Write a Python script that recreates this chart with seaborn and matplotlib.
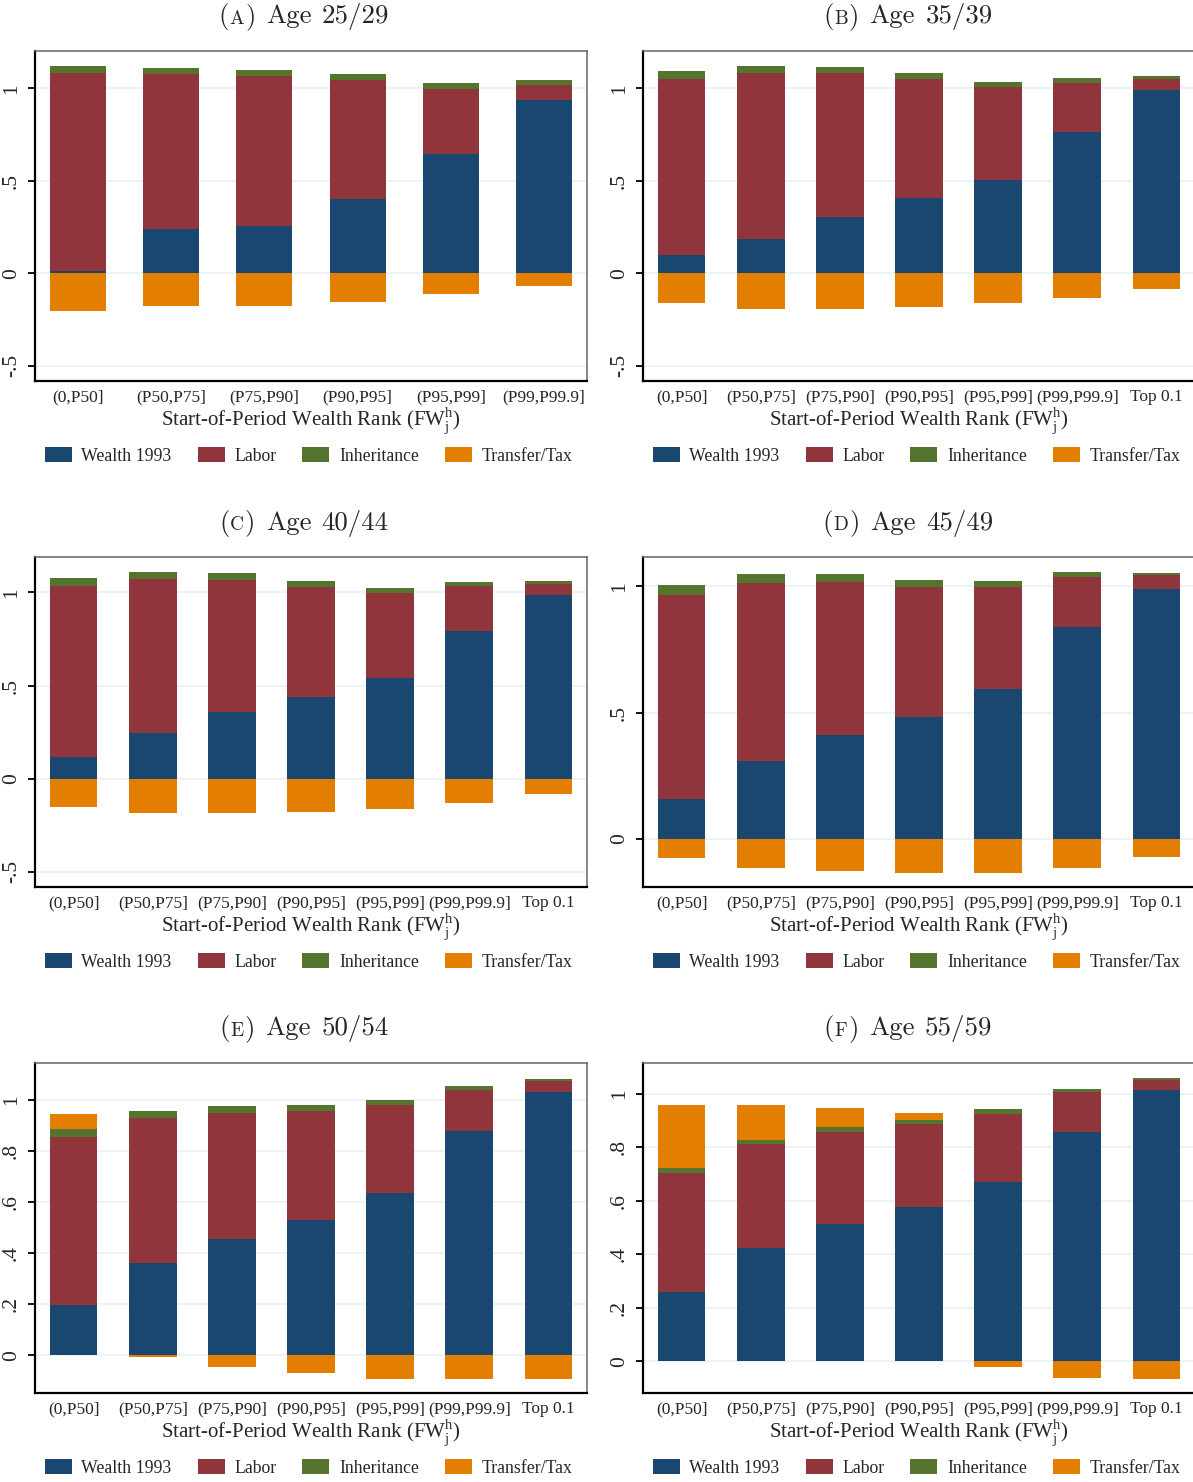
from matplotlib import pyplot as plt
from matplotlib.patches import Patch
from matplotlib.offsetbox import TextArea, HPacker, AnnotationBbox
import numpy as np
import seaborn as sns

sns.set_theme(style='white')
plt.rcParams['font.family'] = ['Liberation Serif', 'DejaVu Serif']
plt.rcParams['mathtext.fontset'] = 'custom'
plt.rcParams['mathtext.rm'] = 'Liberation Serif'

W, H, DPI = 1193, 1482, 100

# ---- data (shares of end-of-period wealth) ----
ranks = ['(0,P50]', '(P50,P75]', '(P75,P90]', '(P90,P95]',
         '(P95,P99]', '(P99,P99.9]', 'Top 0.1']
series = ['Wealth 1993', 'Labor', 'Inheritance', 'Transfer/Tax']
colors = ['#1a476f', '#90353b', '#55752f', '#e37e00']

wealth_a = [0.013, 0.240, 0.256, 0.402, 0.643, 0.939]
labor_a = [1.072, 0.839, 0.812, 0.643, 0.353, 0.079]
inherit_a = [0.037, 0.033, 0.033, 0.032, 0.033, 0.027]
transfer_a = [-0.202, -0.175, -0.177, -0.155, -0.110, -0.068]

wealth_b = [0.099, 0.186, 0.305, 0.407, 0.505, 0.764, 0.993]
labor_b = [0.951, 0.897, 0.778, 0.643, 0.500, 0.265, 0.057]
inherit_b = [0.042, 0.038, 0.032, 0.035, 0.029, 0.029, 0.017]
transfer_b = [-0.162, -0.195, -0.193, -0.182, -0.160, -0.133, -0.085]

wealth_c = [0.116, 0.245, 0.360, 0.438, 0.542, 0.792, 0.986]
labor_c = [0.920, 0.827, 0.706, 0.592, 0.454, 0.244, 0.059]
inherit_c = [0.041, 0.037, 0.038, 0.031, 0.027, 0.019, 0.016]
transfer_c = [-0.152, -0.182, -0.182, -0.177, -0.161, -0.131, -0.080]

wealth_d = [0.158, 0.309, 0.412, 0.483, 0.594, 0.839, 0.989]
labor_d = [0.808, 0.704, 0.606, 0.514, 0.403, 0.198, 0.056]
inherit_d = [0.039, 0.036, 0.031, 0.028, 0.024, 0.020, 0.008]
transfer_d = [-0.074, -0.115, -0.125, -0.133, -0.133, -0.115, -0.070]

wealth_e = [0.197, 0.361, 0.455, 0.531, 0.635, 0.877, 1.030]
labor_e = [0.657, 0.567, 0.493, 0.425, 0.344, 0.161, 0.043]
inherit_e = [0.031, 0.028, 0.025, 0.023, 0.020, 0.015, 0.009]
transfer_e = [0.059, -0.007, -0.044, -0.068, -0.091, -0.091, -0.091]

wealth_f = [0.259, 0.425, 0.515, 0.577, 0.671, 0.858, 1.015]
labor_f = [0.445, 0.387, 0.343, 0.312, 0.254, 0.151, 0.039]
inherit_f = [0.019, 0.016, 0.017, 0.014, 0.018, 0.010, 0.006]
transfer_f = [0.236, 0.131, 0.073, 0.026, -0.021, -0.064, -0.067]

ticks_wide = [-0.5, 0, 0.5, 1]
ticklabels_wide = ['-.5', '0', '.5', '1']
ticks_d = [0, 0.5, 1]
ticklabels_d = ['0', '.5', '1']
ticks_fine = [0, 0.2, 0.4, 0.6, 0.8, 1]
ticklabels_fine = ['0', '.2', '.4', '.6', '.8', '1']

fig = plt.figure(figsize=(W / DPI, H / DPI), dpi=DPI)


# Draws one stacked-bar panel; rect given in pixels (left, top, width, height)
def panel(rect, letter, age, wealth, labor, inherit, transfer,
          ylim, yticks, yticklabels, title_x):
  x0, y0, w, h = rect
  ax = fig.add_axes([x0 / W, 1 - (y0 + h) / H, w / W, h / H])
  cats = ranks[:len(wealth)]
  wealth, labor = np.array(wealth), np.array(labor)
  inherit, transfer = np.array(inherit), np.array(transfer)
  top = wealth + labor + inherit
  layers = [(wealth, 0), (labor, wealth), (inherit, wealth + labor),
            (transfer, np.where(transfer > 0, top, 0))]
  for (vals, base), col in zip(layers, colors):
    sns.barplot(x=cats, y=vals, bottom=base, color=col, saturation=1,
                width=0.6, errorbar=None, linewidth=0, ax=ax)
  n = len(cats)
  margin = 0.49 if n == 7 else 0.46
  ax.set_xlim(-margin, n - 1 + margin)
  ax.set_ylim(*ylim)
  ax.set_yticks(yticks)
  ax.set_yticklabels(yticklabels, rotation=90, va='center', fontsize=15.5)
  ax.yaxis.grid(True, color='#eaf2f3', lw=1.3)
  ax.set_axisbelow(True)
  ax.tick_params(axis='y', length=5, width=1.3, color='black', pad=5,
                 left=True)
  ax.tick_params(axis='x', length=0, pad=6, labelsize=12.5)
  for s in ['left', 'bottom']:
    ax.spines[s].set(color='black', lw=1.6)
  for s in ['top', 'right']:
    ax.spines[s].set(color='#666666', lw=1.1)
  ax.set_ylabel('')
  ax.set_xlabel(r'Start-of-Period Wealth Rank (FW$^{\mathrm{h}}_{\mathrm{j}}$)',
                fontsize=15)
  ax.xaxis.set_label_coords(0.5, -40 / h)
  ax.xaxis.label.set_va('center')
  handles = [Patch(facecolor=c, edgecolor='none', label=l)
             for c, l in zip(colors, series)]
  ax.legend(handles=handles, loc='center', bbox_to_anchor=(0.4955, -75 / h),
            ncol=4, frameon=False, fontsize=12.8, handlelength=1.52,
            handleheight=0.86, handletextpad=0.55, columnspacing=1.45,
            borderpad=0, borderaxespad=0)
  # title with small-caps panel letter
  tfont = ['cmr10', 'DejaVu Serif']
  big, small = 19.4, 14
  parts = [TextArea('(', textprops=dict(fontsize=big, family=tfont)),
           TextArea(letter, textprops=dict(fontsize=small, family=tfont)),
           TextArea(')', textprops=dict(fontsize=big, family=tfont)),
           TextArea('Age', textprops=dict(fontsize=big, family=tfont)),
           TextArea(age, textprops=dict(fontsize=big, family=tfont))]
  box = HPacker(children=[HPacker(children=parts[:3], align='baseline', pad=0, sep=0.5),
                          parts[3], parts[4]], align='baseline', pad=0, sep=7.5)
  ab = AnnotationBbox(box, (title_x / W, 1 - (y0 - 34) / H),
                      xycoords='figure fraction', frameon=False,
                      box_alignment=(0.5, 0.5), pad=0)
  fig.add_artist(ab)
  return ax


panel((35, 51, 552, 330), 'A', '25/29', wealth_a, labor_a, inherit_a, transfer_a,
      (-0.582, 1.202), ticks_wide, ticklabels_wide, 304)
panel((643, 51, 552, 330), 'B', '35/39', wealth_b, labor_b, inherit_b, transfer_b,
      (-0.582, 1.202), ticks_wide, ticklabels_wide, 908)
panel((35, 557, 552, 330), 'C', '40/44', wealth_c, labor_c, inherit_c, transfer_c,
      (-0.581, 1.19), ticks_wide, ticklabels_wide, 304)
panel((643, 557, 552, 330), 'D', '45/49', wealth_d, labor_d, inherit_d, transfer_d,
      (-0.19, 1.116), ticks_d, ticklabels_d, 908)
panel((35, 1063, 552, 330), 'E', '50/54', wealth_e, labor_e, inherit_e, transfer_e,
      (-0.147, 1.143), ticks_fine, ticklabels_fine, 304)
panel((643, 1063, 552, 330), 'F', '55/59', wealth_f, labor_f, inherit_f, transfer_f,
      (-0.119, 1.116), ticks_fine, ticklabels_fine, 908)

fig.savefig('out.png', dpi=DPI)
plt.close(fig)
